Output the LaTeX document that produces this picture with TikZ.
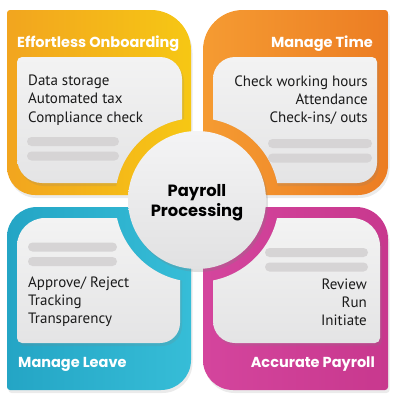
\documentclass[tikz,border=0pt]{standalone}
\usepackage{fontspec}
\setmainfont{PT Sans}
\newfontfamily\headfont{Poppins}
\usetikzlibrary{shadows}
\definecolor{onboardA}{RGB}{242,165,31}
\definecolor{onboardB}{RGB}{246,199,20}
\definecolor{timeA}{RGB}{245,155,50}
\definecolor{timeB}{RGB}{236,125,35}
\definecolor{leaveA}{RGB}{36,165,197}
\definecolor{leaveB}{RGB}{54,189,215}
\definecolor{payA}{RGB}{212,69,157}
\definecolor{payB}{RGB}{200,56,142}
\definecolor{cardtop}{RGB}{243,243,243}
\definecolor{cardbottom}{RGB}{228,228,229}
\definecolor{hubtop}{RGB}{244,244,245}
\definecolor{hubbottom}{RGB}{225,225,226}
\definecolor{bar}{RGB}{214,212,213}
\definecolor{itemtext}{RGB}{26,26,26}
\newcommand{\tile}[9]{
  % style, x1, y1, x2, y2, radius tl, tr, br, bl
  \path[#1] (#2+#6,#3) -- (#4-#7,#3) arc[start angle=-90,end angle=0,radius=#7]
    -- (#4,#5-#8) arc[start angle=0,end angle=90,radius=#8]
    -- (#2+#9,#5) arc[start angle=90,end angle=180,radius=#9]
    -- (#2,#3+#6) arc[start angle=180,end angle=270,radius=#6] -- cycle;
}
\newcommand{\bars}[3]{
  \fill[bar,rounded corners=4.5pt] (#1,#3) rectangle (#2,#3+9);
  \fill[bar,rounded corners=4.5pt] (#1,#3+14.5) rectangle (#2,#3+23.5);
}
\tikzset{x=1pt}
\tikzset{y=-1pt}
\tikzset{block/.style={drop shadow={opacity=.16,shadow xshift=1.5pt,shadow yshift=-3pt}}}
\tikzset{card/.style={top color=cardtop,bottom color=cardbottom,drop shadow={opacity=.18,shadow xshift=2pt,shadow yshift=-3pt}}}
\tikzstyle{headline}=[inner sep=0pt,text=white,font=\headfont\bfseries\fontsize{14.5}{16}\selectfont]
\tikzstyle{item}=[inner sep=0pt,text=itemtext,font=\fontsize{15}{18}\selectfont]
\tikzstyle{hub}=[circle,minimum size=138pt,inner sep=0pt,top color=hubtop,bottom color=hubbottom,
  drop shadow={opacity=.25,shadow xshift=2pt,shadow yshift=-3pt}]

\begin{document}
\begin{tikzpicture}
  \useasboundingbox (0,0) rectangle (400,415);
  \tile{block,left color=onboardA,right color=onboardB}{7}{10}{191}{195}{3}{40}{3}{28}
  \tile{block,left color=timeA,right color=timeB}{203}{10}{388}{195}{40}{3}{30}{3}
  \tile{block,left color=leaveA,right color=leaveB}{7}{207}{191}{390}{30}{3}{30}{3}
  \tile{block,left color=payA,right color=payB}{203}{207}{388}{390}{3}{32}{3}{30}

  %% cards, cut round the hub
  \begin{scope}[even odd rule]
    \clip (0,0) rectangle (400,415) (197,200) circle[radius=82];
    \tile{card}{17}{57}{182}{183}{5}{22}{3}{25}
    \tile{card}{213}{57}{377}{183}{22}{5}{20}{3}
    \tile{card}{17}{218}{180}{343}{28}{3}{20}{5}
    \tile{card}{213}{218}{380}{343}{3}{28}{5}{22}
  \end{scope}

  \bars{27}{119}{137}
  \bars{268}{372}{139}
  \bars{28}{117}{242.5}
  \bars{265}{368}{248}

  %% titles
  \node[headline,anchor=base west] (onboard) at (17,47) {Effortless Onboarding};
  \node[headline,anchor=base east] (time) at (373,47) {Manage Time};
  \node[headline,anchor=base west] (leave) at (18,367) {Manage Leave};
  \node[headline,anchor=base east] (payroll) at (375,367) {Accurate Payroll};

  %% items
  \node[item,anchor=base west] (ob1) at (28,85) {Data storage};
  \node[item,anchor=base west] (ob2) at (28,103.5) {Automated tax};
  \node[item,anchor=base west] (ob3) at (28,122) {Compliance check};
  \node[item,anchor=base east] (tm1) at (368,86) {Check working hours};
  \node[item,anchor=base east] (tm2) at (368,104) {Attendance};
  \node[item,anchor=base east] (tm3) at (368,122) {Check-ins/ outs};
  \node[item,anchor=base west] (lv1) at (28,287) {Approve/ Reject};
  \node[item,anchor=base west] (lv2) at (28,305) {Tracking};
  \node[item,anchor=base west] (lv3) at (28,323) {Transparency};
  \node[item,anchor=base east] (pr1) at (367,289) {Review};
  \node[item,anchor=base east] (pr2) at (367,307) {Run};
  \node[item,anchor=base east] (pr3) at (367,325) {Initiate};

  %% hub
  \node[hub] (hub) at (197,200) {};
  \node[font=\headfont\bfseries\fontsize{16.3}{20}\selectfont,align=center] (hubtext) at (197,203) {Payroll\\Processing};
\end{tikzpicture}
\end{document}
